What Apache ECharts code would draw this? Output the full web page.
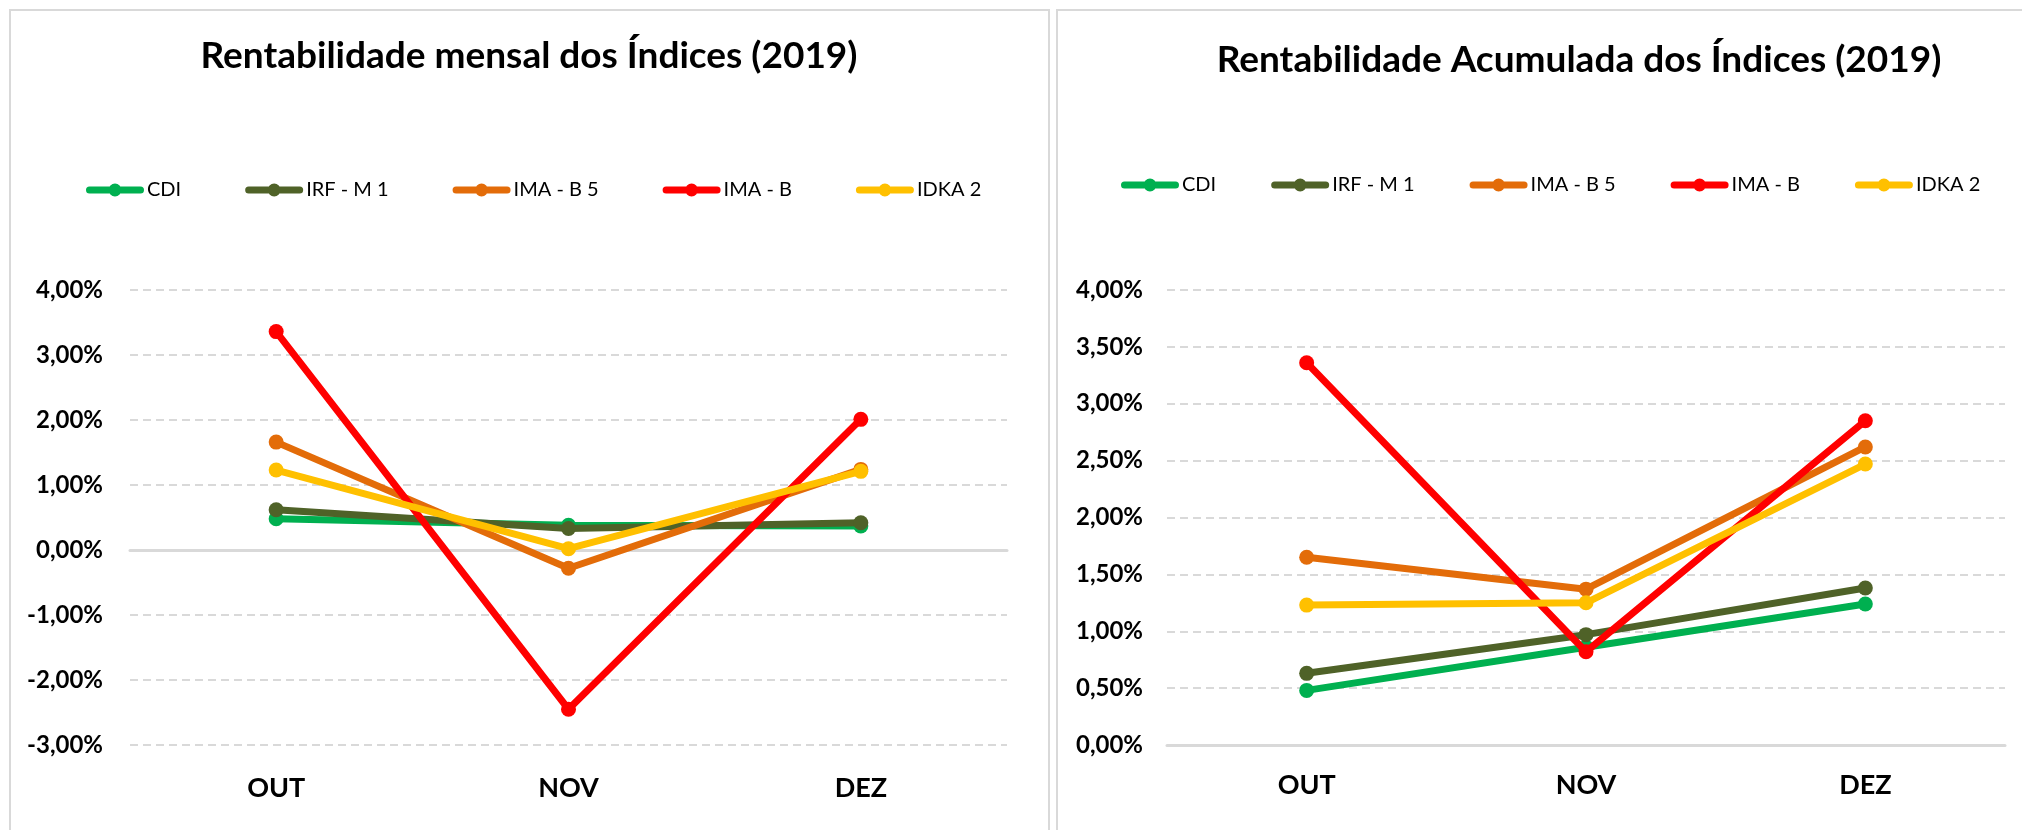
<!DOCTYPE html>
<html>
<head>
<meta charset="utf-8">
<script src="https://cdn.jsdelivr.net/npm/echarts@6/dist/echarts.min.js"></script>
<style>
html,body{margin:0;padding:0;background:#fff;}
#chart{width:2022px;height:830px;}
</style>
</head>
<body>
<div id="chart"></div>
<script>
// ---- Data ----
const categories = ['OUT', 'NOV', 'DEZ'];
const seriesNames = ['CDI', 'IRF - M 1', 'IMA - B 5', 'IMA - B', 'IDKA 2'];
const seriesColors = ['#00B050', '#4F6228', '#E36C09', '#FF0000', '#FFC000'];

const titleMonthly = 'Rentabilidade mensal dos Índices (2019)';
const titleAccum = 'Rentabilidade Acumulada dos Índices (2019)';

// Monthly returns (%)
const monthlyCDI   = [0.48, 0.38, 0.37];
const monthlyIRFM1 = [0.62, 0.33, 0.42];
const monthlyIMAB5 = [1.66, -0.28, 1.24];
const monthlyIMAB  = [3.36, -2.45, 2.01];
const monthlyIDKA2 = [1.23, 0.02, 1.21];

// Accumulated returns (%)
const accumCDI   = [0.48, 0.86, 1.24];
const accumIRFM1 = [0.63, 0.97, 1.38];
const accumIMAB5 = [1.65, 1.37, 2.62];
const accumIMAB  = [3.36, 0.82, 2.85];
const accumIDKA2 = [1.23, 1.25, 2.47];

// Axis ranges
const monthlyAxis = { min: -3, max: 4, interval: 1 };
const accumAxis   = { min: 0, max: 4, interval: 0.5 };

const monthlyData = [monthlyCDI, monthlyIRFM1, monthlyIMAB5, monthlyIMAB, monthlyIDKA2];
const accumData   = [accumCDI, accumIRFM1, accumIMAB5, accumIMAB, accumIDKA2];

// ---- Styling ----
const FONT = 'Lato, "Open Sans", sans-serif';
const GRIDC = '#d9d9d9';
const fmt = v => v.toFixed(2).replace('.', ',') + '%';
// legend icon: thick round-capped line with a dot in the middle
const LEGEND_ICON = 'path://M3.5,3L54.5,3A3.5,3.5,0,0,1,54.5,10L3.5,10A3.5,3.5,0,0,1,3.5,3Z' +
                    'M22.5,6.5A6.5,6.5,0,1,1,35.5,6.5A6.5,6.5,0,1,1,22.5,6.5Z';

function makeSeries(dataList, gridIdx) {
  return dataList.map((d, i) => ({
    name: seriesNames[i],
    type: 'line',
    xAxisIndex: gridIdx === 0 ? 0 : 2,
    yAxisIndex: gridIdx,
    data: d,
    symbol: 'circle',
    symbolSize: 15,
    lineStyle: { width: 7, color: seriesColors[i], cap: 'round' },
    itemStyle: { color: seriesColors[i] },
    emphasis: { disabled: true },
    z: 3 + i
  }));
}

function yAxisCfg(gridIdx, range, margin) {
  return {
    type: 'value', gridIndex: gridIdx,
    min: range.min, max: range.max, interval: range.interval,
    axisLine: { show: false }, axisTick: { show: false },
    splitLine: { show: true, lineStyle: { color: GRIDC, width: 2, type: [8, 5] } },
    axisLabel: { formatter: fmt, color: '#000', fontFamily: FONT, fontWeight: 'bold', fontSize: 24, margin: margin }
  };
}

const legendCommon = {
  data: seriesNames,
  icon: LEGEND_ICON,
  itemWidth: 58, itemHeight: 13,
  padding: 0,
  width: 1000,
  textStyle: { color: '#000', fontFamily: FONT, fontSize: 20, padding: [0, 0, 0, -2] },
  selectedMode: false
};

const option = {
  animation: false,
  backgroundColor: '#fff',
  color: seriesColors,
  graphic: [
    { type: 'rect', silent: true, z: -10, shape: { x: 10, y: 10, width: 1039, height: 900 }, style: { fill: 'none', stroke: GRIDC, lineWidth: 2 } },
    { type: 'rect', silent: true, z: -10, shape: { x: 1057, y: 10, width: 1100, height: 900 }, style: { fill: 'none', stroke: GRIDC, lineWidth: 2 } }
  ],
  title: [
    { text: titleMonthly, left: 529, top: 38, textAlign: 'center', padding: 0,
      textStyle: { fontFamily: FONT, fontWeight: 'bold', fontSize: 37, color: '#000' } },
    { text: titleAccum, left: 1579, top: 42, textAlign: 'center', padding: 0,
      textStyle: { fontFamily: FONT, fontWeight: 'bold', fontSize: 37, color: '#000' } }
  ],
  legend: [
    Object.assign({}, legendCommon, { left: 86, top: 180, itemGap: 64 }),
    Object.assign({}, legendCommon, { left: 1121, top: 175, itemGap: 55 })
  ],
  grid: [
    { left: 130, right: 2022 - 1007, top: 290, bottom: 830 - 745 },
    { left: 1167, right: 2022 - 2005, top: 290, bottom: 830 - 745 }
  ],
  xAxis: [
    { type: 'category', gridIndex: 0, data: categories, position: 'bottom',
      axisLine: { show: false, onZero: false }, axisTick: { show: false },
      axisLabel: { color: '#000', fontFamily: FONT, fontWeight: 'bold', fontSize: 27, margin: 30 } },
    { type: 'category', gridIndex: 0, data: categories,
      axisLine: { show: true, onZero: true, lineStyle: { color: GRIDC, width: 3 } },
      axisTick: { show: false }, axisLabel: { show: false }, splitLine: { show: false } },
    { type: 'category', gridIndex: 1, data: categories, position: 'bottom',
      axisLine: { show: true, lineStyle: { color: GRIDC, width: 3 } }, axisTick: { show: false },
      axisLabel: { color: '#000', fontFamily: FONT, fontWeight: 'bold', fontSize: 27, margin: 27 } }
  ],
  yAxis: [
    yAxisCfg(0, monthlyAxis, 27),
    yAxisCfg(1, accumAxis, 24)
  ],
  series: makeSeries(monthlyData, 0).concat(makeSeries(accumData, 1))
};

const chart = echarts.init(document.getElementById('chart'), null, { renderer: 'canvas' });
chart.setOption(option);
</script>
</body>
</html>
